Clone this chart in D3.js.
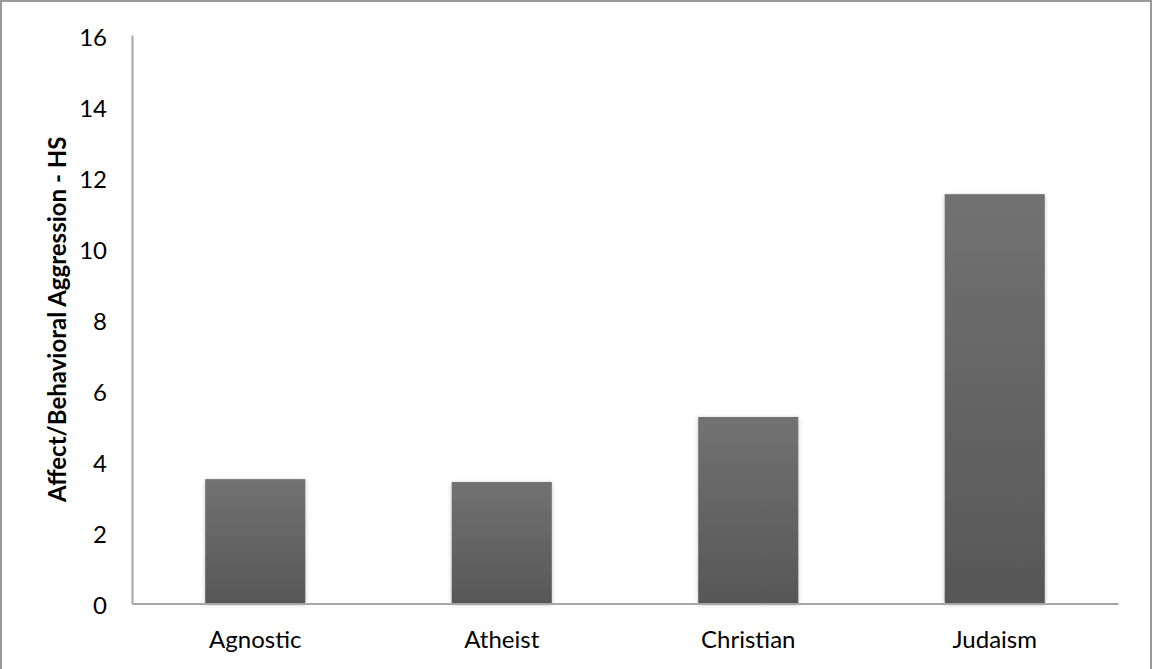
<!DOCTYPE html>
<html>
<head>
<meta charset="utf-8">
<script src="https://cdn.jsdelivr.net/npm/d3@7"></script>
<style>
  html, body { margin: 0; padding: 0; background: #fff; }
  svg text { font-family: Lato, "Open Sans", sans-serif; fill: #000; }
</style>
</head>
<body>
<svg id="chart" width="1152" height="669"></svg>
<script>
// Mean affect/behavioral aggression score by religious group
const categories = ["Agnostic", "Atheist", "Christian", "Judaism"];
const values = [3.5, 3.42, 5.25, 11.52];
const yTicks = [0, 2, 4, 6, 8, 10, 12, 14, 16];
const yTitle = "Affect/Behavioral Aggression - HS";

const W = 1152, H = 669;
const margin = { left: 132, right: 34, top: 35, bottom: 65 };
const FONT = "Lato, 'Open Sans', sans-serif";

const svg = d3.select("#chart");

// frame along the left, top and right edges
svg.append("path")
  .attr("d", `M1,${H} V1 H${W - 1} V${H}`)
  .attr("fill", "none")
  .attr("stroke", "#999").attr("stroke-width", 2);

const defs = svg.append("defs");
const grad = defs.append("linearGradient")
  .attr("id", "barFill").attr("x1", 0).attr("y1", 0).attr("x2", 0).attr("y2", 1);
grad.append("stop").attr("offset", "0%").attr("stop-color", "#727272");
grad.append("stop").attr("offset", "100%").attr("stop-color", "#575757");

const shadow = defs.append("filter").attr("id", "barShadow")
  .attr("x", "-10%").attr("y", "-5%").attr("width", "120%").attr("height", "110%");
shadow.append("feDropShadow")
  .attr("dx", 0).attr("dy", 1).attr("stdDeviation", 2)
  .attr("flood-color", "#000").attr("flood-opacity", 0.25);

const x = d3.scaleBand()
  .domain(categories)
  .range([margin.left, W - margin.right])
  .paddingInner(0.594)
  .paddingOuter(0.297);

const y = d3.scaleLinear()
  .domain([0, 16])
  .range([H - margin.bottom - 0.5, margin.top]);

// bars
svg.append("g")
  .selectAll("rect")
  .data(categories)
  .join("rect")
  .attr("x", d => x(d))
  .attr("y", (d, i) => y(values[i]))
  .attr("width", x.bandwidth())
  .attr("height", (d, i) => y(0) - y(values[i]))
  .attr("fill", "url(#barFill)")
  .attr("filter", "url(#barShadow)");

// y axis
const yAxis = svg.append("g")
  .attr("transform", `translate(${margin.left},0)`)
  .call(d3.axisLeft(y).tickValues(yTicks).tickSize(0).tickPadding(25));
yAxis.select(".domain").attr("stroke", "#a6a6a6").attr("stroke-width", 2);
yAxis.selectAll("text").attr("font-size", 24).attr("dy", "0.42em")
  .style("font-family", FONT);

// x axis
const xAxis = svg.append("g")
  .attr("transform", `translate(0,${y(0)})`)
  .call(d3.axisBottom(x).tickSize(0));
xAxis.select(".domain").attr("stroke", "#a6a6a6").attr("stroke-width", 2);
xAxis.selectAll("text").attr("font-size", 24).attr("y", 44.5).attr("dy", 0)
  .style("font-family", FONT);

// y axis title
svg.append("text")
  .attr("transform", `translate(66,${(y(0) + y(16)) / 2}) rotate(-90)`)
  .attr("text-anchor", "middle")
  .attr("font-size", 24)
  .attr("font-weight", "bold")
  .text(yTitle);
</script>
</body>
</html>
